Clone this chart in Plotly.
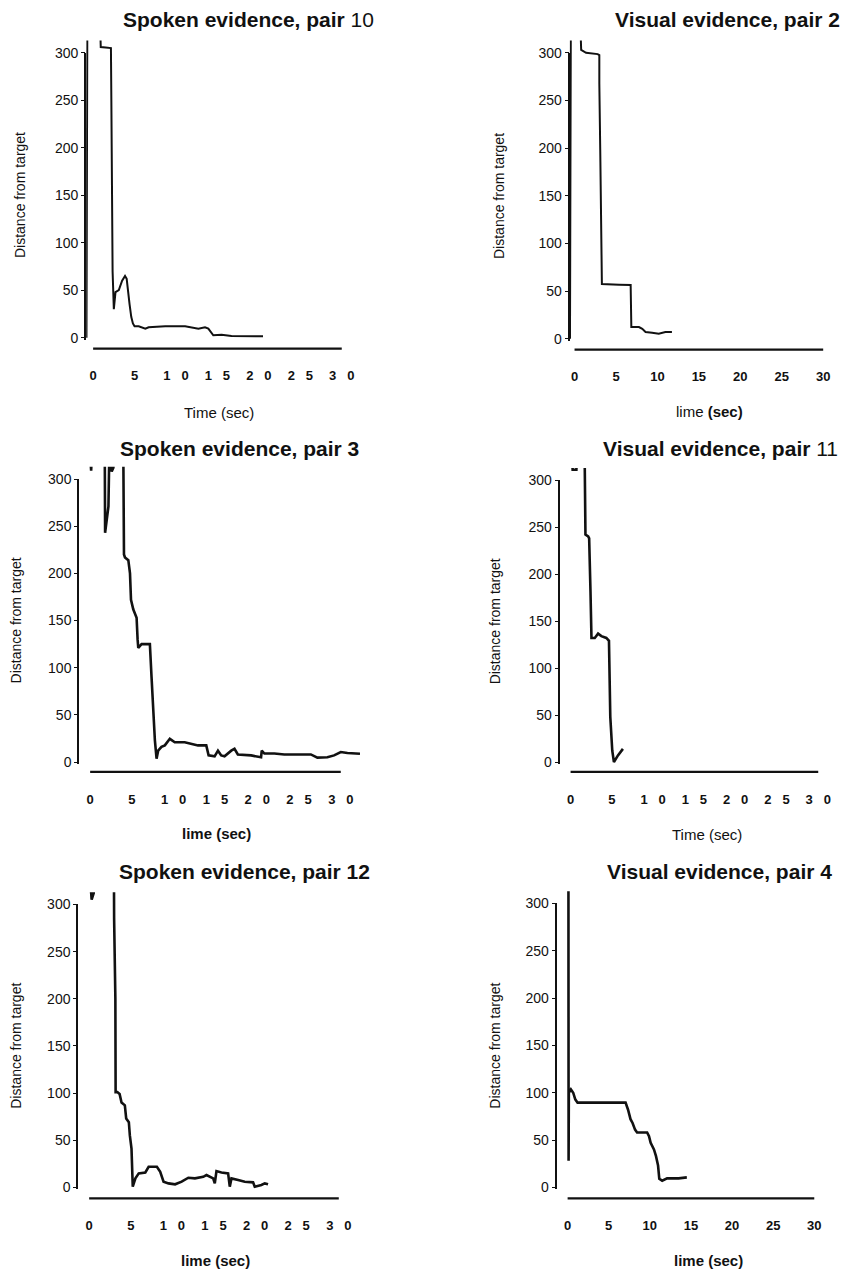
import plotly.graph_objects as go

W, H = 851, 1277
FONT = "Liberation Sans, Arial, Helvetica, sans-serif"

# ---------------- data (time in sec, distance from target) ----------------
p1_time = [-0.8, -0.72, -0.7, 0.85, 0.92, 1.5, 2.15, 2.2, 2.25, 2.35, 2.5, 2.7, 3.1, 3.5, 3.85, 4.05,
           4.4, 4.6, 4.8, 5.0, 5.5, 6.3, 6.7, 8.7, 11.1, 12.7, 13.5, 13.9, 14.5, 15.5, 16.7, 20.5]
p1_dist = [0, 200, 330, 330, 306, 305.5, 305, 250, 130, 70, 30, 48, 50, 60, 65, 62,
           35, 22, 15, 12, 12, 9.4, 11, 12, 12, 9.5, 11, 9.5, 2.5, 3, 1.7, 1.4]

p2_time = [-0.55, -0.5, -0.45, 0.7, 0.8, 1.39, 2.79, 2.99, 2.99, 3.1, 3.19, 3.3, 5.38, 6.77,
           6.85, 7.77, 8.17, 8.57, 9.36, 10.16, 10.96, 11.75]
p2_dist = [0, 300, 330, 330, 303, 300, 298.6, 297.6, 268, 198, 111, 57.4, 56.7, 56.4,
           12.2, 12.2, 10.4, 7, 6.3, 5.2, 7, 7]

p3_time = [0.0, 0.12, 0.2, 1.75, 1.79, 1.95, 2.19, 2.3, 2.58, 2.78, 2.85, 3.97, 4.05, 4.17, 4.57,
           4.77, 4.89, 5.16, 5.36, 5.56, 5.68, 5.76, 6.16, 6.56, 7.15, 7.35, 7.55, 7.75, 7.95,
           8.14, 8.54, 8.94, 9.54, 10.13, 11.32, 12.12, 12.91, 13.9, 14.18, 14.9, 15.3, 15.69,
           16.09, 16.89, 17.28, 17.68, 19.27, 20.46, 20.54, 20.86, 22.05, 23.24, 26.42, 27.2,
           28.4, 29.2, 30.0, 30.8, 32.3]
p3_dist = [325, 309, 325, 330, 243, 257, 271, 330, 308, 312, 330, 330, 220, 217, 214,
           200, 172, 162, 157, 153, 130, 121, 125, 125, 125, 90, 55, 23, 3.5,
           12, 16, 17.6, 24.6, 21, 21, 19, 17.6, 17.6, 7, 6, 12, 7,
           6, 12, 14, 8, 7, 5, 12, 9, 9, 8, 8, 4.6,
           5, 7, 10.6, 9.5, 8.8]

p4_time = [0.15, 0.25, 0.7, 0.8, 1.7, 1.8, 2.13, 2.25, 2.41, 2.53, 2.93, 3.33, 3.73, 4.33,
           4.65, 4.81, 5.05, 5.25, 5.74, 6.34]
p4_dist = [330, 311, 311, 330, 330, 242, 240, 238, 182, 132, 132, 136.6, 134, 132,
           129, 48, 12, 0, 7, 14]

p5_time = [0.1, 0.3, 0.55, 0.6, 2.98, 3.0, 3.15, 3.18, 3.38, 3.66, 3.89, 4.29, 4.45, 4.77,
           4.89, 5.09, 5.24, 5.56, 5.96, 6.75, 7.15, 8.14, 8.54, 8.94, 9.54, 10.33, 11.12,
           11.92, 12.71, 13.71, 14.1, 14.9, 15.1, 15.3, 15.9, 16.7, 16.9, 17.1, 17.9, 18.7,
           19.7, 19.9, 20.7, 21.1, 21.5]
p5_dist = [330, 305, 312, 330, 330, 285, 200, 101, 101, 99, 90, 87, 73, 69,
           55, 41, 0.7, 9.5, 14.8, 15.8, 21.8, 21.8, 16.5, 6, 4.2, 3.2, 6,
           10.2, 9.5, 11.2, 13, 9.5, 4.2, 17.2, 15.8, 14.8, 0.7, 9.5, 7.7, 6,
           5.3, 0.7, 2.5, 4.2, 3.2]

p6_time = [0.1, 0.12, 0.15, 0.4, 0.68, 0.93, 1.21, 4.6, 7.05, 7.35, 7.65, 7.9, 8.2, 8.45,
           9.67, 9.9, 10.1, 10.5, 10.75, 11.0, 11.15, 11.5, 12.1, 13.5, 14.5]
p6_dist = [330, 28, 100, 103.5, 100, 93, 89.5, 89.5, 89.5, 82, 72, 68, 61, 58,
           58, 54, 47, 40, 33, 23, 9, 7, 9.5, 9.5, 10.5]

# ---------------- tick labels ----------------
tick_vals = [0, 5, 10, 15, 20, 25, 30]
ticks_plain = ["0", "5", "10", "15", "20", "25", "30"]
gap = "\u00a0" * 3
ticks_spaced = ["0", "5", "1" + gap + "0", "1" + gap + "5", "2" + gap + "0", "2" + gap + "5", "3" + gap + "0"]
ytick_vals = [0, 50, 100, 150, 200, 250, 300]

titles = ["<b>Spoken evidence, pair</b> 10", "<b>Visual evidence, pair 2</b>",
          "<b>Spoken evidence, pair 3</b>", "<b>Visual evidence, pair</b> 11",
          "<b>Spoken evidence, pair 12</b>", "<b>Visual evidence, pair 4</b>"]
xtitles = ["Time (sec)", "lime <b>(sec)</b>", "<b>lime (sec)</b>", "Time (sec)",
           "<b>lime (sec)</b>", "<b>lime (sec)</b>"]
ytitle = "Distance from target"

# ---------------- panel geometry (pixels) ----------------
panels = [
    dict(t=p1_time, d=p1_dist, ticks=ticks_spaced, Xy=87, X0=94, X30=345, Y0=339, Y300=53, XL=350,
         T=(251, 20), XT=(221, 414), YTx=20, LW=2.0),
    dict(t=p2_time, d=p2_dist, ticks=ticks_plain, Xy=575, X0=580, X30=831, Y0=340, Y300=53, XL=351,
         T=(734, 20), XT=(716, 413), YTx=503, LW=2.0),
    dict(t=p3_time, d=p3_dist, ticks=ticks_spaced, Xy=80, X0=91, X30=344, Y0=765, Y300=481, XL=775,
         T=(242, 450), XT=(219, 837), YTx=16, LW=2.6),
    dict(t=p4_time, d=p4_dist, ticks=ticks_spaced, Xy=565, X0=576, X30=826, Y0=765, Y300=482, XL=775,
         T=(727, 450), XT=(714, 838), YTx=500, LW=2.6),
    dict(t=p5_time, d=p5_dist, ticks=ticks_spaced, Xy=79, X0=90, X30=342, Y0=1192, Y300=908, XL=1203,
         T=(247, 875), XT=(218, 1265), YTx=16, LW=2.6),
    dict(t=p6_time, d=p6_dist, ticks=ticks_plain, Xy=562, X0=573, X30=822, Y0=1192, Y300=907, XL=1203,
         T=(726, 875), XT=(715, 1265), YTx=500, LW=2.6),
]

fig = go.Figure()
layout = {}
shapes = []
annotations = []
YMIN, YMAX = -3, 313
NP = len(panels)

for i, (p, title, xtitle) in enumerate(zip(panels, titles, xtitles)):
    n = "" if i == 0 else str(i + 1)
    xref, yref = "x" + n, "y" + n
    m = str(i + 1 + NP)               # extra y axis that only carries the 0..300 axis line
    yref_line = "y" + m
    sx = (p["X30"] - p["X0"]) / 30.0
    xmin = (p["Xy"] - p["X0"]) / sx
    xmax = max(30.5, max(p["t"]) + 0.4)
    right_px = p["X0"] + xmax * sx
    sy = (p["Y0"] - p["Y300"]) / 300.0
    bottom_px = p["Y0"] - YMIN * sy
    top_px = p["Y0"] - YMAX * sy

    fig.add_trace(go.Scatter(x=p["t"], y=p["d"], mode="lines", xaxis=xref, yaxis=yref,
                             line=dict(color="#111111", width=p["LW"]), showlegend=False,
                             hoverinfo="skip"))
    fig.add_trace(go.Scatter(x=[None], y=[None], mode="lines", xaxis=xref, yaxis=yref_line,
                             showlegend=False, hoverinfo="skip"))

    layout["xaxis" + n] = dict(
        domain=[p["Xy"] / W, right_px / W], range=[xmin, xmax], anchor="free",
        position=1 - p["XL"] / H, showline=False, showgrid=False, zeroline=False,
        tickmode="array", tickvals=tick_vals, ticktext=p["ticks"],
        ticks="outside", ticklen=15, tickcolor="rgba(0,0,0,0)",
        tickfont=dict(family=FONT, size=13, color="#111111", weight="bold"),
    )
    layout["yaxis" + n] = dict(
        domain=[1 - bottom_px / H, 1 - top_px / H], range=[YMIN, YMAX], anchor=xref,
        showline=False, showgrid=False, zeroline=False,
        tickmode="array", tickvals=ytick_vals, ticks="outside", ticklen=4, tickwidth=1.2,
        tickcolor="#111111", tickfont=dict(family=FONT, size=14, color="#111111"),
    )
    layout["yaxis" + m] = dict(
        domain=[1 - (p["Y0"] + 2) / H, 1 - p["Y300"] / H], range=[0, 1], anchor=xref,
        showline=True, linecolor="#111111", linewidth=1.8, showgrid=False, zeroline=False,
        showticklabels=False, ticks="", fixedrange=True,
    )
    # detached x axis line from 0 to 30 sec
    shapes.append(dict(type="line", xref="paper", yref="paper",
                       x0=p["X0"] / W, x1=p["X30"] / W,
                       y0=1 - p["XL"] / H, y1=1 - p["XL"] / H,
                       line=dict(color="#111111", width=2.2)))

    annotations.append(dict(text=title, x=p["T"][0] / W, y=1 - p["T"][1] / H, xref="paper", yref="paper",
                            xanchor="center", yanchor="middle", showarrow=False,
                            font=dict(family=FONT, size=21, color="#111111")))
    annotations.append(dict(text=xtitle, x=p["XT"][0] / W, y=1 - p["XT"][1] / H, xref="paper", yref="paper",
                            xanchor="center", yanchor="middle", showarrow=False,
                            font=dict(family=FONT, size=15, color="#111111")))
    annotations.append(dict(text=ytitle, x=p["YTx"] / W, y=1 - ((p["Y0"] + p["Y300"]) / 2) / H,
                            xref="paper", yref="paper", xanchor="center", yanchor="middle",
                            textangle=-90, showarrow=False,
                            font=dict(family=FONT, size=14, color="#111111")))

fig.update_layout(
    width=W, height=H, margin=dict(l=0, r=0, t=0, b=0),
    paper_bgcolor="white", plot_bgcolor="rgba(0,0,0,0)",
    shapes=shapes, annotations=annotations, showlegend=False,
    **layout,
)

fig.write_html("out.html")
